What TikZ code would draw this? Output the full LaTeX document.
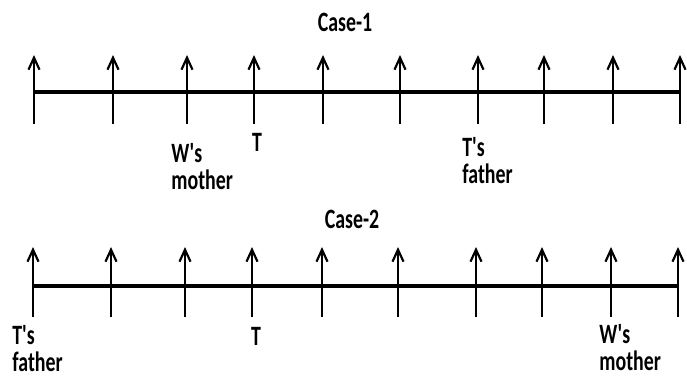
\documentclass[tikz,border=0pt]{standalone}
\usepackage{fontspec}
\newfontfamily\casefont{Carlito}[FakeStretch=0.71]
\usetikzlibrary{arrows.meta, positioning}

\begin{document}
\begin{tikzpicture}[
  x=0.5pt, y=-0.5pt,
  axis/.style={line width=1.6pt},
  tick/.style={-{Straight Barb[length=6pt,width=5.5pt]}, line width=1.1pt},
  title/.style={font=\casefont\bfseries\fontsize{14}{13.5}\selectfont},
  lbl/.style={font=\casefont\bfseries\fontsize{14}{13.5}\selectfont, align=left,
              inner sep=0pt, anchor=north west},
]
  \useasboundingbox (0,0) rectangle (687,376);

  \node[title] (case1) at (345,22) {Case-1};
  \node[title] (case2) at (352,219) {Case-2};

  \foreach \x [count=\i] in {34,113,187,254,323,400,478,544,613,680} {
    \coordinate (a1-\i) at (\x,92);
    \coordinate (b1-\i) at (\x,124);
    \coordinate (t1-\i) at (\x,55);
    \draw[tick] (b1-\i) -- (t1-\i);
  }
  \foreach \x [count=\i] in {33,111,185,252,322,398,476,542,611,678} {
    \coordinate (a2-\i) at (\x,286);
    \coordinate (b2-\i) at (\x,317);
    \coordinate (t2-\i) at (\x,247);
    \draw[tick] (b2-\i) -- (t2-\i);
  }
  \draw[axis] (a1-1) -- (a1-10);
  \draw[axis] (a2-1) -- (a2-10);

  \node[lbl] (wm1) at (171,143) {W's\\mother};
  \node[lbl, anchor=north] (tt1) at (257,133) {T};
  \node[lbl] (tf1) at (462,137) {T's\\father};

  \node[lbl] (tf2) at (12,325) {T's\\father};
  \node[lbl, anchor=north] (tt2) at (256,327) {T};
  \node[lbl] (wm2) at (599,324) {W's\\mother};
\end{tikzpicture}
\end{document}
